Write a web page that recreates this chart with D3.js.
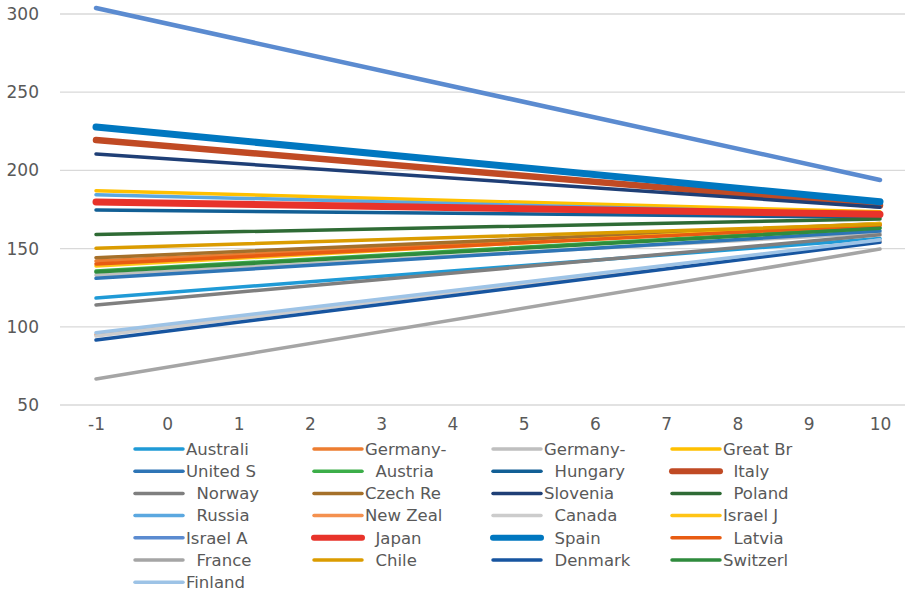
<!DOCTYPE html>
<html><head><meta charset="utf-8">
<script src="https://cdn.jsdelivr.net/npm/d3@7"></script>
<style>
html,body{margin:0;padding:0;background:#fff;}
svg text{font-family:"DejaVu Sans",sans-serif;fill:#595959;white-space:pre;}
</style></head>
<body>
<svg id="chart" width="909" height="591"></svg>
<script>
const xLabels = [-1,0,1,2,3,4,5,6,7,8,9,10];
const yTicks = [50,100,150,200,250,300];
const names = ["Australi","Germany-","Germany-","Great Br","United S","  Austria","  Hungary","  Italy","  Norway","Czech Re","Slovenia","  Poland","  Russia","New Zeal","  Canada","Israel J","Israel A","  Japan","  Spain","  Latvia","  France","  Chile","  Denmark","Switzerl","Finland"];
const startValues = [118.4,142.0,133.0,187.0,131.0,135.7,174.7,219.4,114.0,144.2,210.5,159.0,184.5,95.0,94.1,138.9,303.8,179.8,227.7,140.2,66.6,150.2,91.6,135.0,96.2];
const endValues   = [156.5,165.0,160.0,173.5,161.3,163.5,170.0,177.5,158.8,166.0,176.5,168.9,172.0,155.0,155.5,166.0,193.9,171.9,180.0,165.0,149.7,165.5,154.0,163.0,155.5];
const colors = ["#1f9ad6","#ed7d31","#bfbfbf","#ffc000","#2e75b6","#3cae49","#125f95","#c04a24","#7f7f7f","#a5702a","#1f3f76","#2f6b35","#5ba8e0","#f4914f","#cccccc","#ffc415","#5b8bd0","#e8332a","#0077c0","#e85c12","#a5a5a5","#db9c00","#1755a0","#2f8b3d","#9dc3e6"];
const widths = [3.5,3.5,3.5,3.5,3.5,3.5,3.5,6.5,3.5,3.5,3.5,3.5,3.5,3.5,3.5,3.5,4.5,7,7,3.5,3.5,3.5,3.5,3.5,3.5];

const svg = d3.select("#chart");
const x = d3.scalePoint().domain(xLabels).range([96,880]);
const y = d3.scaleLinear().domain([50,300]).range([405,14]);

// gridlines
svg.append("g").selectAll("line").data(yTicks).join("line")
  .attr("x1",60).attr("x2",905).attr("y1",d=>y(d)).attr("y2",d=>y(d))
  .attr("stroke","#d9d9d9").attr("stroke-width",1.3);

// y axis labels
const yAxis = d3.axisLeft(y).tickValues(yTicks).tickSize(0).tickPadding(0);
const yg = svg.append("g").attr("transform","translate(39,0)").call(yAxis);
yg.select(".domain").remove();
yg.selectAll("text").attr("font-size",17).style("font-family","DejaVu Sans").attr("fill","#595959");

// x axis labels
const xAxis = d3.axisBottom(x).tickSize(0).tickPadding(0);
const xg = svg.append("g").attr("transform","translate(0,418)").call(xAxis);
xg.select(".domain").remove();
xg.selectAll("text").attr("font-size",17).style("font-family","DejaVu Sans").attr("fill","#595959");

// lines
const series = names.map((n,i)=>({name:n,color:colors[i],w:widths[i],pts:[[xLabels[0],startValues[i]],[xLabels[xLabels.length-1],endValues[i]]]}));
const line = d3.line().x(d=>x(d[0])).y(d=>y(d[1]));
svg.append("g").selectAll("path").data(series).join("path")
  .attr("d",d=>line(d.pts)).attr("fill","none")
  .attr("stroke",d=>d.color).attr("stroke-width",d=>d.w)
  .attr("stroke-linecap","round");

// legend
const lg = svg.append("g");
const colX = [133,312,491,670];
const rowY0 = 449, rowH = 22.2;
series.forEach((s,i)=>{
  const c = i%4, r = Math.floor(i/4);
  const gx = colX[c], gy = rowY0 + r*rowH;
  lg.append("line").attr("x1",gx+2).attr("x2",gx+50).attr("y1",gy).attr("y2",gy)
    .attr("stroke",s.color).attr("stroke-width",s.w>5?6:3.5).attr("stroke-linecap","round");
  lg.append("text").attr("x",gx+53).attr("y",gy).attr("dy","0.35em")
    .attr("font-size",16.5).text(s.name);
});
</script>
</body></html>
